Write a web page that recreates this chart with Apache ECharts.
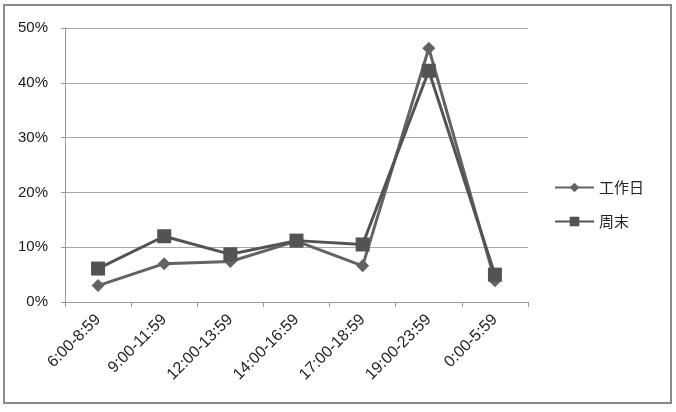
<!DOCTYPE html>
<html><head><meta charset="utf-8">
<script src="https://cdn.jsdelivr.net/npm/echarts@6/dist/echarts.min.js"></script>
<style>html,body{margin:0;padding:0;background:#fff}#c{width:676px;height:412px}</style>
</head><body><div id="c"></div>
<script>
const categories = ['6:00-8:59','9:00-11:59','12:00-13:59','14:00-16:59','17:00-18:59','19:00-23:59','0:00-5:59'];
const workday = [3.0, 7.0, 7.4, 11.1, 6.6, 46.3, 3.9];
const weekend = [6.1, 12.0, 8.7, 11.2, 10.5, 42.2, 5.0];
const yTicks = [0, 10, 20, 30, 40, 50];
const seriesNames = ['工作日', '周末'];

const chart = echarts.init(document.getElementById('c'), null, {renderer: 'canvas'});
const font = '"Liberation Sans", "Noto Sans CJK SC", sans-serif';
chart.setOption({
  animation: false,
  backgroundColor: '#fff',
  graphic: [{type: 'rect', shape: {x: 4, y: 5, width: 667, height: 398}, style: {fill: 'none', stroke: '#8a8a8a', lineWidth: 2}}],
  grid: {left: 65, right: 148, top: 28, bottom: 110, containLabel: false},
  legend: {
    orient: 'vertical', left: 549, top: 175, itemWidth: 39, itemHeight: 12, itemGap: 19,
    textStyle: {fontFamily: '"Noto Sans CJK SC", sans-serif', fontSize: 15, color: '#222'},
    data: seriesNames
  },
  xAxis: {
    type: 'category', data: categories, boundaryGap: true,
    axisLine: {show: true, lineStyle: {color: '#999', width: 1}},
    axisTick: {show: true, length: 5, lineStyle: {color: '#999'}},
    axisLabel: {rotate: 45, fontFamily: font, fontSize: 16, color: '#222', margin: 15, interval: 0}
  },
  yAxis: {
    type: 'value', min: yTicks[0], max: yTicks[yTicks.length - 1], interval: 10,
    axisLine: {show: true, lineStyle: {color: '#999', width: 1}},
    axisTick: {show: true, length: 4, lineStyle: {color: '#999'}},
    splitLine: {lineStyle: {color: '#a8a8a8', width: 1}},
    axisLabel: {formatter: v => v + '%', fontFamily: font, fontSize: 15, color: '#1a1a1a', margin: 17}
  },
  series: [
    {name: seriesNames[0], type: 'line', data: workday, symbol: 'diamond', symbolSize: 13,
     lineStyle: {color: '#636363', width: 3}, itemStyle: {color: '#636363'}, z: 2},
    {name: seriesNames[1], type: 'line', data: weekend, symbol: 'rect', symbolSize: 14,
     lineStyle: {color: '#535353', width: 3}, itemStyle: {color: '#535353'}, z: 3}
  ]
});
</script></body></html>
